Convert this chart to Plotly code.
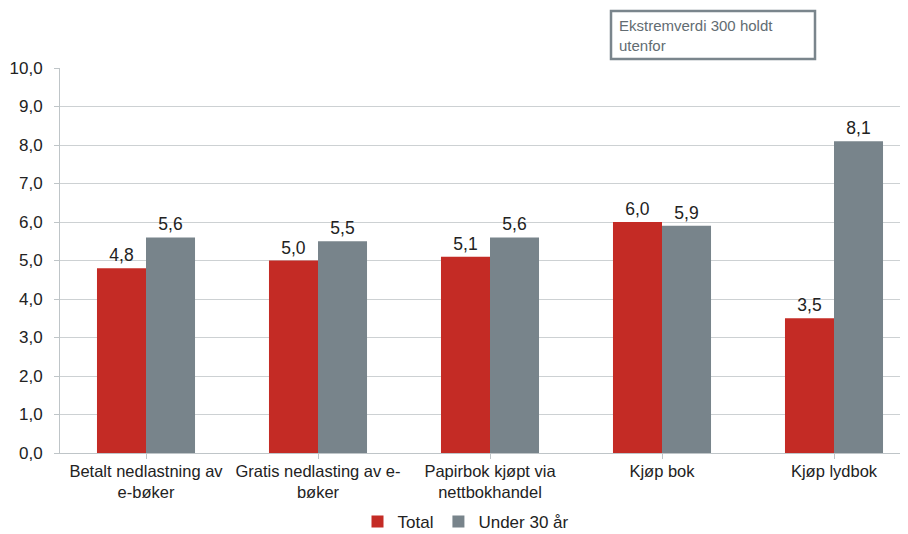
import plotly.graph_objects as go

categories = ["Betalt nedlastning av<br>e-bøker", "Gratis nedlasting av e-<br>bøker",
              "Papirbok kjøpt via<br>nettbokhandel", "Kjøp bok", "Kjøp lydbok"]
total = [4.8, 5.0, 5.1, 6.0, 3.5]
under30 = [5.6, 5.5, 5.6, 5.9, 8.1]
series_names = ["Total", "Under 30 år"]
colors = ["#C42B25", "#78848B"]
note = "Ekstremverdi 300 holdt<br>utenfor"

# the page body adds an 8px offset; layout below is in screen pixels
OFF = 8
W, H = 908 - OFF, 534 - OFF
L, T = 60 - OFF, 68 - OFF
plot_h = 385
B = H - T - plot_h
plot_w = W - L
cat_w = 172

fig = go.Figure()
for name, vals, c in zip(series_names, [total, under30], colors):
    fig.add_trace(go.Bar(
        x=list(range(len(categories))), y=vals, name=name, marker_color=c,
        marker_line_width=0,
        text=vals, texttemplate="%{y:.1f}", textposition="outside",
        textfont=dict(size=17.5, color="#222222"), cliponaxis=False,
    ))

def sx(px):
    return (px - OFF - L) / plot_w
def sy(py):
    return (T + plot_h - (py - OFF)) / plot_h

fig.update_layout(
    width=W, height=H, margin=dict(l=L, r=0, t=T, b=B, autoexpand=False),
    plot_bgcolor="white", paper_bgcolor="white",
    separators=", ",
    font=dict(family="Liberation Sans, Arial, sans-serif", color="#222222", size=17),
    barmode="group", bargap=0.43, bargroupgap=0,
    showlegend=True,
    legend=dict(orientation="h", x=sx(466), xanchor="center",
                y=sy(522), yanchor="middle",
                font=dict(size=17), itemwidth=30, traceorder="normal"),
    xaxis=dict(tickmode="array", tickvals=list(range(len(categories))), ticktext=categories,
               range=[-0.5, -0.5 + plot_w / cat_w], showgrid=False, automargin=False,
               showline=True, linecolor="#BFC5C8", linewidth=1,
               ticks="outside", tickson="boundaries", ticklen=5, tickcolor="#BFC5C8",
               ticklabelstandoff=-2,
               tickfont=dict(size=16.5, color="#222222")),
    yaxis=dict(range=[0, 10], dtick=1, tickformat=".1f", showgrid=True, automargin=False,
               gridcolor="#CDD1D3", gridwidth=1,
               showline=True, linecolor="#BFC5C8", linewidth=1,
               ticks="outside", ticklen=5, tickcolor="#BFC5C8",
               ticklabelstandoff=8,
               tickfont=dict(size=17, color="#222222"), zeroline=False),
)

fig.add_shape(type="rect", xref="paper", yref="paper",
              x0=sx(611), x1=sx(815), y0=sy(59), y1=sy(11),
              line=dict(color="#7A858C", width=2.5), fillcolor="white")
fig.add_annotation(xref="paper", yref="paper", x=sx(617), y=sy(15),
                   xanchor="left", yanchor="top", align="left", showarrow=False,
                   text=note, font=dict(size=15, color="#626C72"))

fig.write_html("out.html")
